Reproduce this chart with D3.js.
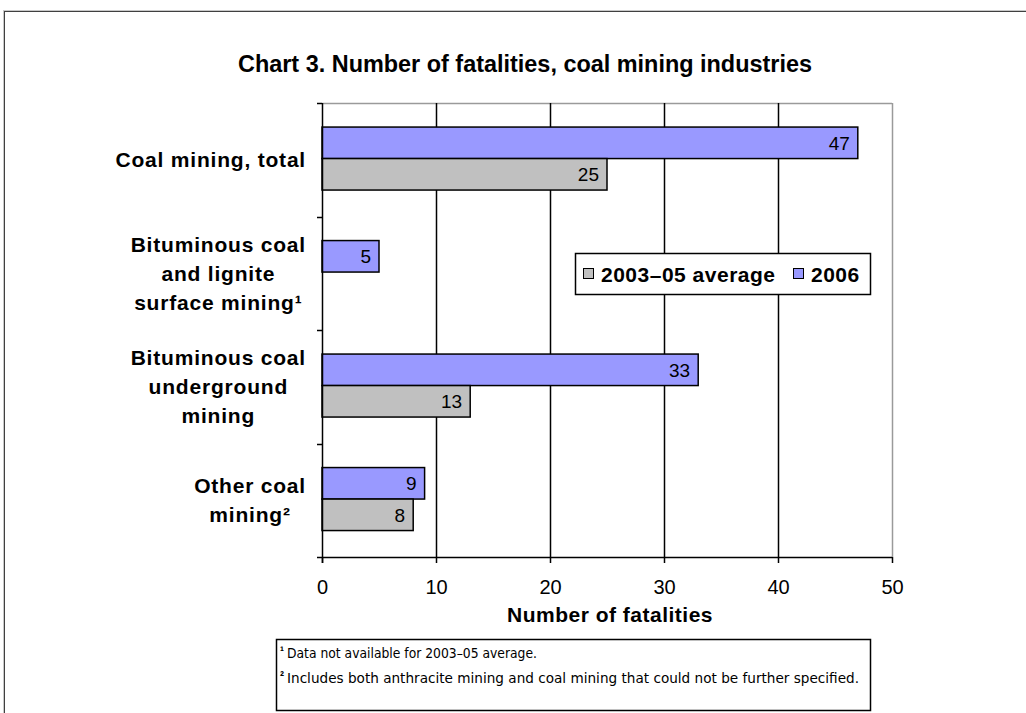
<!DOCTYPE html>
<html>
<head>
<meta charset="utf-8">
<script src="https://cdn.jsdelivr.net/npm/d3@7"></script>
<style>
  html, body { margin: 0; padding: 0; background: #fff; }
  svg { display: block; }
</style>
</head>
<body>
<svg id="chart" width="1026" height="713"></svg>
<script>
// Fatalities by coal mining industry
const categories = [
  ["Coal mining, total"],
  ["Bituminous coal", "and lignite", "surface mining\u00B9"],
  ["Bituminous coal", "underground", "mining"],
  ["Other coal", "mining\u00B2"]
];
const categoryKeys = ["total", "surface", "underground", "other"];
const seriesNames = ["2006", "2003\u201305 average"];
const values2006 = [47, 5, 33, 9];
const valuesAvg = [25, null, 13, 8];
const xTicks = [0, 10, 20, 30, 40, 50];
const seriesColors = ["#9999FF", "#C0C0C0"];

const svg = d3.select("#chart");
const W = 1026, H = 713;
const sans = "'Liberation Sans', Arial, sans-serif";

// outer frame
svg.append("line").attr("x1", 3).attr("x2", W).attr("y1", 10.5).attr("y2", 10.5).attr("stroke", "#c8c8c8");
svg.append("line").attr("x1", 4).attr("x2", W).attr("y1", 11.5).attr("y2", 11.5).attr("stroke", "#404040");
svg.append("line").attr("x1", 3.5).attr("x2", 3.5).attr("y1", 10).attr("y2", H).attr("stroke", "#c8c8c8");
svg.append("line").attr("x1", 4.5).attr("x2", 4.5).attr("y1", 11).attr("y2", H).attr("stroke", "#404040");

// title
svg.append("text")
  .attr("x", 525).attr("y", 72)
  .attr("text-anchor", "middle")
  .attr("font-family", "'Liberation Sans Narrow', " + sans)
  .attr("font-weight", "bold")
  .attr("font-size", 23)
  .attr("textLength", 574)
  .attr("lengthAdjust", "spacingAndGlyphs")
  .text("Chart 3. Number of fatalities, coal mining industries");

const plot = { left: 322, right: 892, top: 103, bottom: 557 };

const x = d3.scaleLinear().domain([0, 50]).range([plot.left, plot.right]);
const y = d3.scaleBand().domain(categoryKeys).range([plot.top, plot.bottom]).padding(0);
const bw = y.bandwidth();
const ySub = d3.scaleBand().domain(seriesNames).range([bw * 0.212, bw * 0.212 + bw * 0.555]).padding(0);

// plot frame (top and right in grey)
svg.append("line").attr("x1", plot.left).attr("x2", plot.right)
  .attr("y1", plot.top + 0.5).attr("y2", plot.top + 0.5).attr("stroke", "#9a9a9a").attr("stroke-width", 1.5);
svg.append("line").attr("x1", plot.right + 0.5).attr("x2", plot.right + 0.5)
  .attr("y1", plot.top).attr("y2", plot.bottom).attr("stroke", "#9a9a9a").attr("stroke-width", 1.5);

// vertical gridlines
svg.append("g").selectAll("line")
  .data(xTicks.filter(t => t > 0 && t < 50))
  .join("line")
  .attr("x1", d => Math.round(x(d)) + 0.5).attr("x2", d => Math.round(x(d)) + 0.5)
  .attr("y1", plot.top).attr("y2", plot.bottom)
  .attr("stroke", "#000").attr("stroke-width", 1.5);

// bars with value labels at their ends
const rows = categoryKeys.map((k, i) => ({ key: k, vals: [values2006[i], valuesAvg[i]] }));
const barG = svg.append("g");
rows.forEach(r => {
  r.vals.forEach((v, si) => {
    if (v == null) return;
    const y0 = y(r.key) + ySub(seriesNames[si]);
    const h = ySub.bandwidth();
    barG.append("rect")
      .attr("x", x(0)).attr("y", y0)
      .attr("width", x(v) - x(0)).attr("height", h)
      .attr("fill", seriesColors[si])
      .attr("stroke", "#000").attr("stroke-width", 1.5);
    barG.append("text")
      .attr("x", x(v) - 8).attr("y", y0 + h / 2)
      .attr("dy", "0.36em")
      .attr("text-anchor", "end")
      .attr("font-family", sans)
      .attr("font-size", 19)
      .attr("fill", "#000")
      .text(v);
  });
});

// x axis
const xAxis = d3.axisBottom(x).tickValues(xTicks).tickSize(6).tickPadding(17).tickFormat(d3.format("d"));
const gx = svg.append("g").attr("transform", `translate(0,${plot.bottom})`).call(xAxis);
gx.select(".domain").attr("stroke", "#000").attr("stroke-width", 1.5).attr("d", `M${plot.left},0.5H${plot.right}`);
gx.selectAll(".tick line").attr("stroke", "#000").attr("stroke-width", 1.5);
gx.selectAll(".tick text")
  .attr("font-family", sans)
  .attr("font-size", 20).attr("fill", "#000");

// y axis with ticks at category boundaries
const boundaries = categoryKeys.map(k => y(k)).concat([plot.bottom]);
svg.append("line").attr("x1", plot.left + 0.5).attr("x2", plot.left + 0.5)
  .attr("y1", plot.top).attr("y2", plot.bottom + 6).attr("stroke", "#000").attr("stroke-width", 1.5);
svg.append("g").selectAll("line").data(boundaries).join("line")
  .attr("x1", plot.left - 5).attr("x2", plot.left)
  .attr("y1", d => Math.round(d) + 0.5).attr("y2", d => Math.round(d) + 0.5)
  .attr("stroke", "#000").attr("stroke-width", 1.5);

// category labels: lines centered, block right-aligned
const labelRight = 306;
const lineH = 29;
categories.forEach((lines, i) => {
  const cy = y(categoryKeys[i]) + bw / 2;
  const g = svg.append("g");
  const texts = lines.map((ln, j) => g.append("text")
    .attr("y", cy + (j - (lines.length - 1) / 2) * lineH)
    .attr("dy", "0.36em")
    .attr("text-anchor", "middle")
    .attr("font-family", sans)
    .attr("font-weight", "bold")
    .attr("font-size", 21)
    .attr("letter-spacing", 0.8)
    .attr("fill", "#000")
    .text(ln));
  const maxW = d3.max(texts, t => t.node().getBBox().width);
  texts.forEach(t => t.attr("x", labelRight - maxW / 2));
});

// axis title
svg.append("text")
  .attr("x", 610).attr("y", 622)
  .attr("text-anchor", "middle")
  .attr("font-family", sans)
  .attr("font-weight", "bold")
  .attr("font-size", 21)
  .attr("letter-spacing", 0.5)
  .text("Number of fatalities");

// legend
const lg = svg.append("g");
lg.append("rect").attr("x", 575.5).attr("y", 253.5).attr("width", 295).attr("height", 41)
  .attr("fill", "#fff").attr("stroke", "#000").attr("stroke-width", 1.5);
const legendItems = [
  { name: seriesNames[1], color: seriesColors[1], x: 583 },
  { name: seriesNames[0], color: seriesColors[0], x: 793 }
];
legendItems.forEach(it => {
  lg.append("rect").attr("x", it.x + 0.5).attr("y", 268.5).attr("width", 10).attr("height", 10)
    .attr("fill", it.color).attr("stroke", "#000").attr("stroke-width", 1);
  lg.append("text").attr("x", it.x + 18).attr("y", 274).attr("dy", "0.36em")
    .attr("font-family", sans)
    .attr("font-weight", "bold").attr("font-size", 21)
    .attr("letter-spacing", 0.5)
    .text(it.name);
});

// footnotes
const fn = svg.append("g");
fn.append("rect").attr("x", 276.5).attr("y", 639.5).attr("width", 594).attr("height", 71)
  .attr("fill", "#fff").attr("stroke", "#000").attr("stroke-width", 1.5);
const notes = [
  { mark: "\u00B9", text: "Data not available for 2003\u201305 average.", width: 250 },
  { mark: "\u00B2", text: "Includes both anthracite mining and coal mining that could not be further specified.", width: 572 }
];
notes.forEach((n, i) => {
  const yb = 658 + i * 25;
  fn.append("text").attr("x", 280).attr("y", yb - 3)
    .attr("font-family", sans).attr("font-size", 12).attr("font-weight", "bold")
    .text(n.mark);
  fn.append("text").attr("x", 287).attr("y", yb)
    .attr("font-family", "'DejaVu Sans', Tahoma, sans-serif")
    .attr("font-size", 14).attr("fill", "#000")
    .attr("textLength", n.width).attr("lengthAdjust", "spacingAndGlyphs")
    .text(n.text);
});
</script>
</body>
</html>
